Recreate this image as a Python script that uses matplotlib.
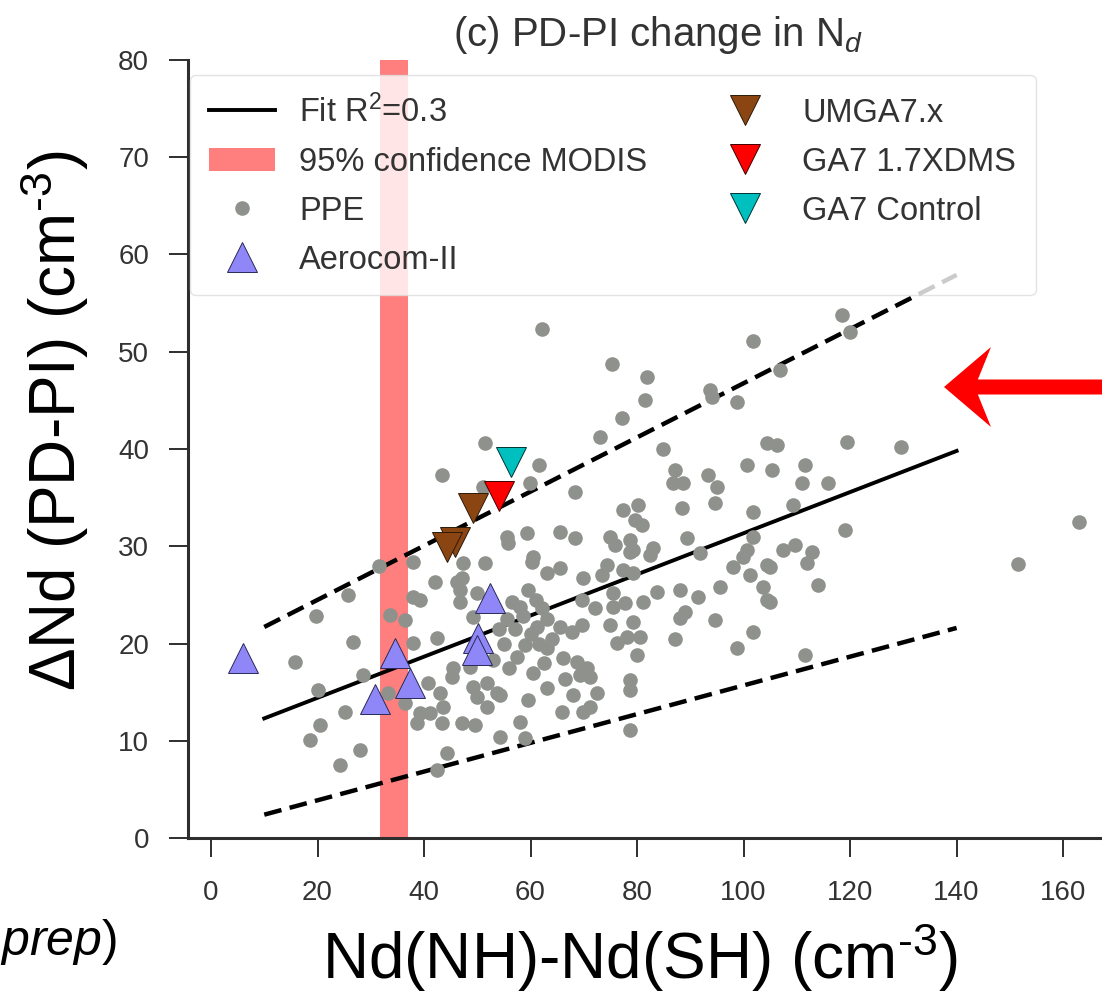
import matplotlib
matplotlib.use("Agg")
import matplotlib.pyplot as plt
from matplotlib.patches import FancyArrow
from matplotlib.transforms import IdentityTransform

# PPE members (grey dots)
ppe_x = [15.8, 19.7, 26.7, 25.7, 20.1, 20.5, 18.6, 25.2, 28.0, 24.2, 28.5, 31.6, 33.6, 36.4,
         33.2, 36.4, 37.9, 37.9, 39.2, 37.9, 42.4, 42.1, 40.8, 39.2, 38.7, 41.1, 43.0, 43.6,
         43.4, 44.3, 42.4, 45.4, 45.3, 46.2, 46.8, 47.3, 51.5, 46.8, 49.2, 50.0, 49.2, 50.0,
         51.8, 51.8, 53.7, 47.1, 49.6, 54.3, 48.6, 53.0, 47.1, 51.5, 43.4, 55.6, 51.1,
         55.5, 57.0, 58.5, 60.0, 61.5, 59.0, 57.5, 56.0, 60.5, 62.5, 58.0, 56.5, 55.0, 54.0,
         63.0, 64.0, 61.0, 59.5,
         60.3, 63.1, 65.5, 69.9, 74.4, 73.4, 77.4, 79.2, 78.7, 82.4, 91.8, 98.0, 99.9, 101.2,
         104.4, 103.7, 104.4, 95.6, 91.5, 88.1, 83.8, 81.1, 89.0, 88.1, 94.6, 101.8, 98.8, 87.1,
         80.0, 79.2, 80.6, 78.1, 76.2, 74.9, 77.7, 75.5, 75.5, 72.1, 69.7, 67.8, 65.5, 69.7,
         61.2, 62.2, 63.1, 66.1, 68.7, 70.6, 71.2, 69.3, 66.5, 63.1, 68.0, 72.5, 71.2, 69.9,
         65.9, 59.5, 58.0, 59.0, 54.3, 78.7, 78.7, 78.7,
         62.2, 75.3, 81.9, 81.5, 77.2, 73.1, 93.7, 94.1, 98.8, 101.8, 84.9, 61.6, 59.9, 68.4,
         87.1, 86.8, 88.6, 93.3, 95.0, 94.6, 88.5, 100.7, 101.8, 77.4, 80.2, 79.6, 80.9, 65.5,
         68.4, 59.3, 55.8, 74.9, 75.9, 78.7, 79.2, 83.0, 89.4, 101.8, 100.7, 60.5, 104.4,
         118.5, 120.0, 106.9, 106.3, 119.4, 129.6, 105.4, 111.5, 111.0, 115.9, 109.3, 119.1,
         163.0, 107.4, 109.7, 112.9, 151.5, 105.0, 111.9, 114.0, 105.0, 111.5]
ppe_y = [18.1, 22.8, 20.2, 25.0, 15.2, 11.6, 10.1, 13.0, 9.0, 7.5, 16.8, 28.0, 22.9, 22.4,
         14.9, 13.9, 28.4, 24.8, 24.5, 20.1, 20.6, 26.3, 15.9, 12.9, 11.8, 12.9, 14.9, 13.5,
         11.8, 8.7, 7.0, 17.5, 16.6, 26.3, 25.5, 28.3, 28.3, 24.3, 22.7, 25.2, 15.5, 14.5,
         15.9, 13.5, 14.9, 11.8, 11.6, 10.4, 17.6, 18.3, 26.7, 40.6, 37.3, 31.0, 36.1,
         22.5, 21.5, 22.8, 21.0, 20.0, 19.8, 18.6, 17.5, 17.0, 18.0, 23.8, 24.3, 20.0, 21.5,
         22.5, 20.5, 24.5, 25.5,
         28.4, 27.2, 27.8, 26.7, 28.1, 27.0, 27.6, 27.2, 29.4, 29.1, 29.3, 27.9, 28.9, 27.0,
         28.1, 25.8, 24.5, 25.8, 24.8, 25.5, 25.3, 24.3, 23.2, 22.6, 22.4, 21.2, 19.5, 20.5,
         18.8, 22.2, 20.7, 20.7, 20.1, 21.9, 24.2, 23.8, 25.2, 23.6, 21.9, 21.2, 21.7, 24.5,
         21.7, 23.6, 19.5, 18.5, 18.1, 17.5, 16.6, 16.8, 16.4, 15.4, 14.7, 14.9, 13.5, 13.0,
         13.0, 14.2, 11.9, 10.3, 14.7, 16.2, 15.2, 11.1,
         52.3, 48.7, 47.4, 45.0, 43.2, 41.2, 46.1, 45.3, 44.8, 51.1, 40.0, 38.4, 36.5, 35.6,
         37.8, 36.5, 36.5, 37.3, 36.1, 34.4, 33.9, 38.4, 33.5, 33.7, 34.2, 32.7, 32.2, 31.5,
         30.8, 31.4, 30.3, 31.0, 30.1, 30.6, 29.6, 29.8, 30.8, 31.0, 29.6, 28.9, 40.6,
         53.8, 52.0, 48.1, 40.4, 40.7, 40.2, 37.8, 38.4, 36.5, 36.5, 34.2, 31.7,
         32.5, 29.6, 30.1, 29.4, 28.2, 27.9, 28.3, 26.0, 24.3, 18.8]

# Aerocom-II models
aero_x = [6.0, 34.6, 30.8, 37.4, 52.4, 50.1, 50.0]
aero_y = [18.5, 19.0, 14.3, 15.9, 24.7, 20.6, 19.3]
# HadGEM / UM runs
umga_x = [49.2, 45.8, 44.3]
umga_y = [33.9, 30.4, 29.9]
dms_x = [54.1]
dms_y = [35.2]
ctrl_x = [56.3]
ctrl_y = [38.7]

# regression and its spread
fit_x = [10, 140]
fit_y = [12.3, 39.8]
upper_y = [21.7, 57.9]
lower_y = [2.4, 21.6]

# MODIS 95% range on the x axis
modis_range = [31.7, 36.9]

W, H = 1102, 999
plt.rcParams["font.family"] = ["Liberation Sans", "DejaVu Sans"]
plt.rcParams["mathtext.fontset"] = "custom"
plt.rcParams["mathtext.rm"] = "Liberation Sans"
plt.rcParams["mathtext.it"] = "Liberation Sans:italic"

fig = plt.figure(figsize=(W / 100, H / 100), dpi=100)
ax = fig.add_axes([188 / W, 161 / H, 955 / W, 778 / H])

ax.axvspan(*modis_range, color="red", alpha=0.5, lw=0, label="95% confidence MODIS")
ax.plot(fit_x, fit_y, color="k", lw=2.8, label="Fit R$^2$=0.3")
ax.plot(fit_x, upper_y, color="k", lw=3.2, ls=(0, (4.0, 1.9)))
ax.plot(fit_x, lower_y, color="k", lw=3.2, ls=(0, (4.0, 1.9)))
ax.plot(ppe_x, ppe_y, ls="none", marker="o", ms=10.5, color="#8e918c", mew=0, label="PPE")
ax.plot(aero_x, aero_y, ls="none", marker="^", ms=21, mfc="#8f87f7", mec="#2a2a55", mew=0.7,
        label="Aerocom-II")
ax.plot(umga_x, umga_y, ls="none", marker="v", ms=22, mfc="#8b4513", mec="#2a1a0a", mew=0.7,
        label="UMGA7.x")
ax.plot(dms_x, dms_y, ls="none", marker="v", ms=22, mfc="red", mec="#400000", mew=0.7,
        label="GA7 1.7XDMS")
ax.plot(ctrl_x, ctrl_y, ls="none", marker="v", ms=22, mfc="#00bfbf", mec="#003333", mew=0.7,
        label="GA7 Control")

# ticks first, limits after (set_ticks would widen the view otherwise)
ax.set_xticks(range(0, 161, 20))
ax.set_yticks(range(0, 81, 10))
ax.set_xlim(-4.32, 175)
ax.set_ylim(0, 80)
for s in ("top", "right"):
    ax.spines[s].set_visible(False)
for s in ("left", "bottom"):
    ax.spines[s].set_color("#2e2e2e")
    ax.spines[s].set_linewidth(2.2)
ax.tick_params(direction="out", length=14, width=1.4, color="#2e2e2e",
               labelsize=20, labelcolor="#333333")
ax.tick_params(axis="x", pad=16)
ax.tick_params(axis="y", pad=14)

h, l = ax.get_legend_handles_labels()
order = ["Fit R$^2$=0.3", "95% confidence MODIS", "PPE", "Aerocom-II",
         "UMGA7.x", "GA7 1.7XDMS", "GA7 Control"]
hh = [h[l.index(o)] for o in order]
leg = ax.legend(hh, order, ncol=2, loc="upper left", bbox_to_anchor=(0.002, 0.981),
                borderaxespad=0, fontsize=23.5, numpoints=1, framealpha=0.8,
                fancybox=True, edgecolor="#dddddd", columnspacing=2.0,
                labelspacing=0.55, borderpad=0.6, handletextpad=0.75)
for t in leg.get_texts():
    t.set_color("#333333")

ax.set_title("(c) PD-PI change in N$_d$", fontsize=29, color="#333333", pad=10,
             x=(658 - 188) / 955)

fig.text(55 / W, 1 - 421 / H, r"$\Delta$Nd (PD-PI) (cm$^{\text{-}3}$)", rotation=90,
         ha="center", va="center", fontsize=46)
fig.text(640 / W, 1 - 958 / H, r"Nd(NH)-Nd(SH) (cm$^{\text{-}3}$)", ha="center",
         va="center", fontsize=46)
fig.text(117 / W, 1 - 955 / H, r"(in $\mathit{prep}$)", ha="right", va="baseline",
         fontsize=36)

arrow = FancyArrow(1120, H - 387, -176, 0, width=15, head_width=80, head_length=47,
                   overhang=0.28, length_includes_head=True, color="red", lw=0,
                   transform=IdentityTransform())
fig.add_artist(arrow)

fig.savefig("out.png", dpi=100)
